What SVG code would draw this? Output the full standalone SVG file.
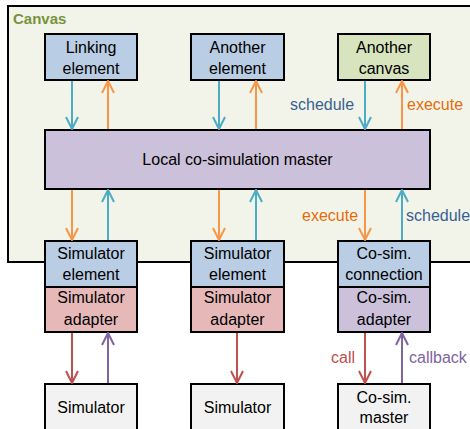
<svg xmlns="http://www.w3.org/2000/svg" width="470" height="429" viewBox="0 0 470 429">
<style>
text{font-family:"Liberation Sans",Arial,sans-serif;font-size:16px;fill:#000;text-anchor:middle}
.box{stroke:#000;stroke-width:2}
.blue{fill:#b9cde5}.green{fill:#d7e4bd}.purple{fill:#ccc1da}.red{fill:#e6b9b8}.grey{fill:#f2f2f2}
.a{fill:none;stroke-width:2}
.ab{stroke:#4bacc6;marker-end:url(#mb)}
.ao{stroke:#f79646;marker-end:url(#mo)}
.ar{stroke:#c0504d;marker-end:url(#mr)}
.ap{stroke:#8064a2;marker-end:url(#mp)}
.lbl{text-anchor:start}
</style>
<defs>
<marker id="mb" viewBox="0 0 14 14" refX="13" refY="7" markerWidth="14" markerHeight="14" markerUnits="userSpaceOnUse" orient="auto"><path d="M1,1 L13,7 L1,13" fill="none" stroke="#4bacc6" stroke-width="2" stroke-linejoin="round"/></marker>
<marker id="mo" viewBox="0 0 14 14" refX="13" refY="7" markerWidth="14" markerHeight="14" markerUnits="userSpaceOnUse" orient="auto"><path d="M1,1 L13,7 L1,13" fill="none" stroke="#f79646" stroke-width="2" stroke-linejoin="round"/></marker>
<marker id="mr" viewBox="0 0 14 14" refX="13" refY="7" markerWidth="14" markerHeight="14" markerUnits="userSpaceOnUse" orient="auto"><path d="M1,1 L13,7 L1,13" fill="none" stroke="#c0504d" stroke-width="2" stroke-linejoin="round"/></marker>
<marker id="mp" viewBox="0 0 14 14" refX="13" refY="7" markerWidth="14" markerHeight="14" markerUnits="userSpaceOnUse" orient="auto"><path d="M1,1 L13,7 L1,13" fill="none" stroke="#8064a2" stroke-width="2" stroke-linejoin="round"/></marker>
</defs>
<rect width="470" height="429" fill="#fff"/>
<g id="canvas">
<rect x="8" y="6" width="480" height="256" fill="#f2f4e9" stroke="#000" stroke-width="2"/>
<text x="13" y="24" style="font-weight:bold;font-size:15px;fill:#77933c;text-anchor:start">Canvas</text>
</g>
<g id="linking">
<rect class="box blue" x="45" y="34" width="92" height="46"/>
<text x="91" y="53">Linking</text><text x="91" y="74">element</text>
</g>
<g id="another-element">
<rect class="box blue" x="191" y="34" width="93" height="46"/>
<text x="237.5" y="53">Another</text><text x="237.5" y="74">element</text>
</g>
<g id="another-canvas">
<rect class="box green" x="338" y="34" width="92" height="46"/>
<text x="384" y="53">Another</text><text x="384" y="74">canvas</text>
</g>
<g id="master">
<rect class="box purple" x="45" y="130" width="385" height="59"/>
<text x="237.5" y="165">Local co-simulation master</text>
</g>
<g id="sim-element-1">
<rect class="box blue" x="45" y="241" width="92" height="46"/>
<rect class="box red" x="45" y="287" width="92" height="45"/>
<text x="91" y="259">Simulator</text><text x="91" y="280">element</text>
<text x="91" y="303">Simulator</text><text x="91" y="325">adapter</text>
</g>
<g id="sim-element-2">
<rect class="box blue" x="191" y="241" width="93" height="46"/>
<rect class="box red" x="191" y="287" width="93" height="45"/>
<text x="237.5" y="259">Simulator</text><text x="237.5" y="280">element</text>
<text x="237.5" y="303">Simulator</text><text x="237.5" y="325">adapter</text>
</g>
<g id="cosim-connection">
<rect class="box blue" x="338" y="241" width="92" height="46"/>
<rect class="box purple" x="338" y="287" width="92" height="45"/>
<text x="384" y="259">Co-sim.</text><text x="384" y="280">connection</text>
<text x="384" y="303">Co-sim.</text><text x="384" y="325">adapter</text>
</g>
<g id="simulator-1">
<rect class="box grey" x="45" y="384" width="92" height="60"/>
<text x="91" y="413">Simulator</text>
</g>
<g id="simulator-2">
<rect class="box grey" x="191" y="384" width="93" height="60"/>
<text x="237.5" y="413">Simulator</text>
</g>
<g id="cosim-master">
<rect class="box grey" x="338" y="384" width="92" height="60"/>
<text x="384" y="403">Co-sim.</text><text x="384" y="423">master</text>
</g>
<g id="connectors">
<line class="a ab" x1="72" y1="81" x2="72" y2="129"/>
<line class="a ao" x1="108" y1="129" x2="108" y2="81"/>
<line class="a ab" x1="219" y1="81" x2="219" y2="129"/>
<line class="a ao" x1="256" y1="129" x2="256" y2="81"/>
<line class="a ab" x1="365" y1="81" x2="365" y2="129"/>
<line class="a ao" x1="402" y1="129" x2="402" y2="81"/>
<line class="a ao" x1="72" y1="190" x2="72" y2="240"/>
<line class="a ab" x1="108" y1="240" x2="108" y2="190"/>
<line class="a ao" x1="219" y1="190" x2="219" y2="240"/>
<line class="a ab" x1="256" y1="240" x2="256" y2="190"/>
<line class="a ao" x1="365" y1="190" x2="365" y2="240"/>
<line class="a ab" x1="402" y1="240" x2="402" y2="190"/>
<line class="a ar" x1="72" y1="333" x2="72" y2="383"/>
<line class="a ap" x1="108" y1="383" x2="108" y2="333"/>
<line class="a ar" x1="237" y1="333" x2="237" y2="383"/>
<line class="a ar" x1="365" y1="333" x2="365" y2="383"/>
<line class="a ap" x1="402" y1="383" x2="402" y2="333"/>
<text class="lbl" x="290" y="110" style="fill:#376092">schedule</text>
<text class="lbl" x="407" y="110" style="fill:#e46c0a">execute</text>
<text class="lbl" x="302" y="221" style="fill:#e46c0a">execute</text>
<text class="lbl" x="406" y="221" style="fill:#376092">schedule</text>
<text class="lbl" x="331" y="363" style="fill:#c0504d">call</text>
<text class="lbl" x="409" y="363" style="fill:#8064a2">callback</text>
</g>
</svg>
